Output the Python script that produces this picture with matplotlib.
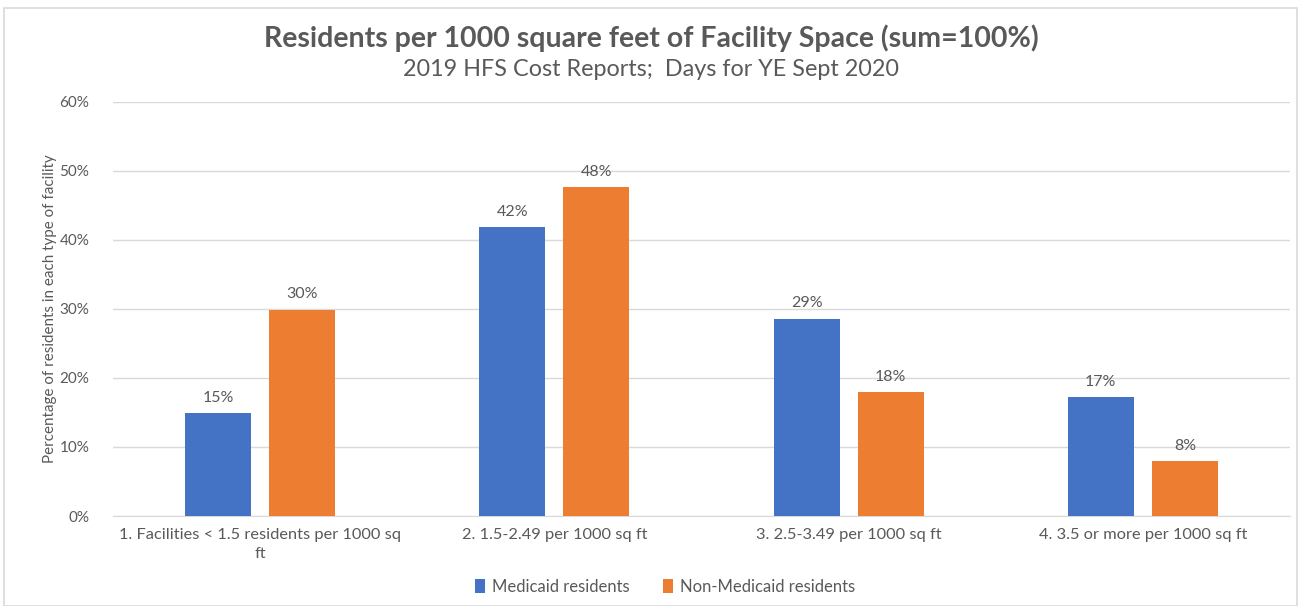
import numpy as np
import matplotlib
matplotlib.use('Agg')
import matplotlib.pyplot as plt
from matplotlib.patches import Rectangle

categories = ['1. Facilities < 1.5 residents per 1000 sq\nft', '2. 1.5-2.49 per 1000 sq ft',
              '3. 2.5-3.49 per 1000 sq ft', '4. 3.5 or more per 1000 sq ft']
medicaid = [14.9, 41.9, 28.6, 17.2]
non_medicaid = [29.9, 47.7, 18.0, 8.0]
medicaid_labels = ['15%', '42%', '29%', '17%']
non_medicaid_labels = ['30%', '48%', '18%', '8%']

plt.rcParams['font.family'] = ['Lato', 'DejaVu Sans']
grey = '#595959'

fig = plt.figure(figsize=(13.02, 6.06), dpi=100)
ax = fig.add_axes([113 / 1302, 1 - 516 / 606, (1290 - 113) / 1302, (516 - 102) / 606])

x = np.arange(len(categories))
w = 0.224
off = 0.143
b1 = ax.bar(x - off, medicaid, w, color='#4472C4', label='Medicaid residents', zorder=3)
b2 = ax.bar(x + off, non_medicaid, w, color='#ED7D31', label='Non-Medicaid residents', zorder=3)

for bars, labels in [(b1, medicaid_labels), (b2, non_medicaid_labels)]:
    for b, lab in zip(bars, labels):
        ax.text(b.get_x() + b.get_width() / 2, b.get_height() + 1.2, lab,
                ha='center', va='bottom', fontsize=11.5, color=grey)

ax.set_xlim(-0.5, 3.5)
ax.set_ylim(0, 60)
ax.set_yticks(range(0, 61, 10))
ax.set_yticklabels(['{}%'.format(t) for t in range(0, 61, 10)], fontsize=11, color=grey)
ax.set_xticks(x)
ax.set_xticklabels(categories, fontsize=11.8, color=grey, va='top', linespacing=1.4)
ax.tick_params(length=0, pad=17, axis='y')
ax.tick_params(length=0, pad=9, axis='x')
ax.grid(axis='y', color='#D9D9D9', linewidth=1, zorder=0)
for s in ['top', 'right', 'left']:
    ax.spines[s].set_visible(False)
ax.spines['bottom'].set_color('#D9D9D9')

ax.set_ylabel('Percentage of residents in each type of facility', fontsize=10.9, color=grey, labelpad=2)

fig.text(0.5, 1 - 38 / 606, 'Residents per 1000 square feet of Facility Space (sum=100%)',
         ha='center', va='center', fontsize=20.5, fontweight='bold', color=grey)
fig.text(0.5, 1 - 70 / 606, '2019 HFS Cost Reports;  Days for YE Sept 2020',
         ha='center', va='center', fontsize=16.8, color=grey)

fig.legend(handles=[b1, b2], loc='center', bbox_to_anchor=(665 / 1302, 1 - 587 / 606), ncol=2,
           frameon=False, fontsize=12, labelcolor=grey, handlelength=0.6, handleheight=0.9,
           columnspacing=2.0, handletextpad=0.4)

fig.patches.append(Rectangle((4 / 1302, 0), 1293 / 1302, 1 - 8 / 606, transform=fig.transFigure,
                             fill=False, edgecolor='#D9D9D9', linewidth=1.2))

fig.savefig('out.png', dpi=100)
